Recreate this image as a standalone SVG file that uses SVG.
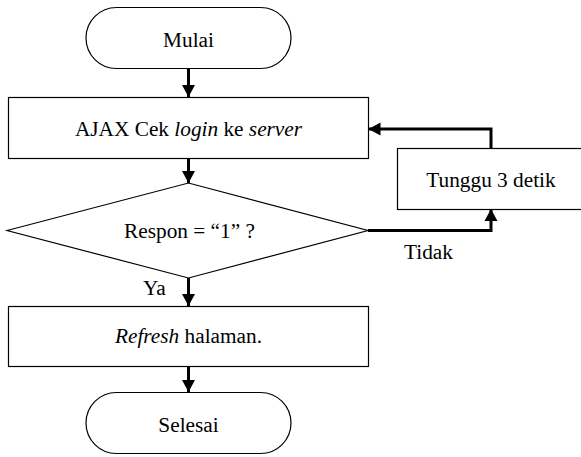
<svg xmlns="http://www.w3.org/2000/svg" width="581" height="457" viewBox="0 0 581 457">
<style>
.shape{fill:#fff;stroke:#000;stroke-width:1.2}
text{font-family:'Liberation Serif','Times New Roman',Times,'DejaVu Serif',serif;font-size:21.3px;fill:#000}
.c{text-anchor:middle}
.conn{fill:none;stroke:#000;stroke-width:3}
</style>
<defs>
<marker id="ah" markerUnits="userSpaceOnUse" markerWidth="14" markerHeight="14" refX="12" refY="7" orient="auto">
<path d="M0,0.5 L12,7 L0,13.5 z" fill="#000"/>
</marker>
</defs>
<rect width="581" height="457" fill="#fff"/>
<g id="mulai">
<rect class="shape" x="86" y="7.5" width="205" height="61" rx="30.5"/>
<text class="c" x="188.5" y="47" font-family="Liberation Serif, serif">Mulai</text>
</g>
<g id="ajax">
<rect class="shape" x="8.5" y="97.5" width="360" height="61"/>
<text class="c" x="188.5" y="136" font-family="Liberation Serif, serif">AJAX Cek <tspan font-style="italic">login</tspan> ke <tspan font-style="italic">server</tspan></text>
</g>
<g id="tunggu">
<rect class="shape" x="397.5" y="148.5" width="190" height="61"/>
<text class="c" x="491" y="187" font-family="Liberation Serif, serif">Tunggu 3 detik</text>
</g>
<g id="respon">
<polygon class="shape" points="7,230.5 188.5,183 368,230.5 188.5,278"/>
<text class="c" x="189.5" y="238" font-family="Liberation Serif, serif">Respon = “1” ?</text>
</g>
<g id="refresh">
<rect class="shape" x="8.5" y="306.5" width="360" height="60"/>
<text class="c" x="188.5" y="343" font-family="Liberation Serif, serif"><tspan font-style="italic">Refresh</tspan> halaman.</text>
</g>
<g id="selesai">
<rect class="shape" x="86" y="392.5" width="205" height="61" rx="30.5"/>
<text class="c" x="188.5" y="432" font-family="Liberation Serif, serif">Selesai</text>
</g>
<g id="connectors">
<path class="conn" d="M188.5,68 V97" marker-end="url(#ah)"/>
<path class="conn" d="M188.5,158 V183" marker-end="url(#ah)"/>
<path class="conn" d="M188.5,278 V306" marker-end="url(#ah)"/>
<path class="conn" d="M188.5,366 V392" marker-end="url(#ah)"/>
<path class="conn" d="M368,230.5 H491 V209" marker-end="url(#ah)"/>
<path class="conn" d="M491,148 V129 H368.5" marker-end="url(#ah)"/>
<text x="404" y="259" font-family="Liberation Serif, serif">Tidak</text>
<text x="143" y="295" font-family="Liberation Serif, serif">Ya</text>
</g>
</svg>
